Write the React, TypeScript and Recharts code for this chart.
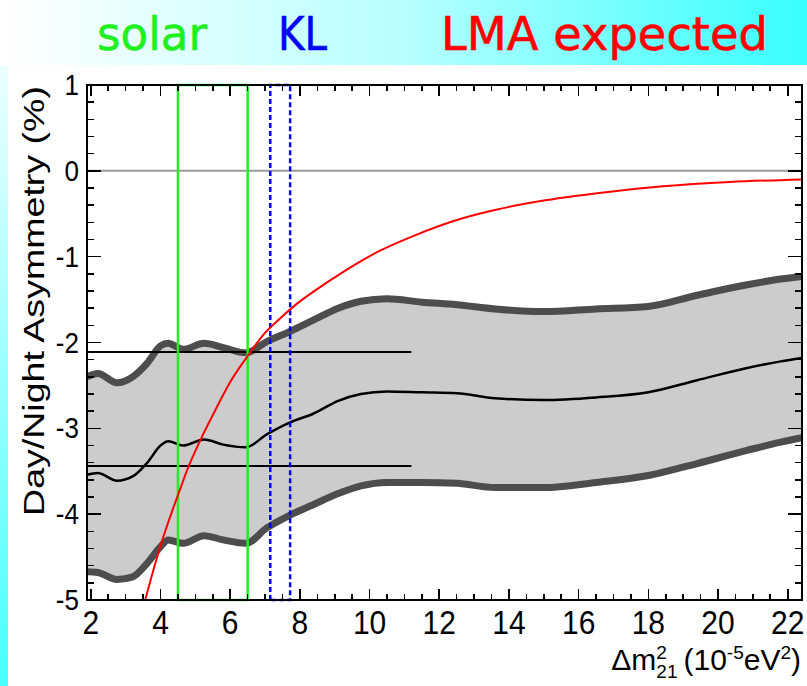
import React from 'react';
import { ComposedChart, Line, Area, XAxis, YAxis } from 'recharts';

// Δm²21 sample points (10^-5 eV²) for the day/night asymmetry band
const bandX = [1.89, 2.2, 2.75, 3.2, 3.62, 4.0, 4.22, 4.65, 5.25, 5.8, 6.45, 7.05, 7.72, 8.38, 9.1, 9.75, 10.5, 11.5, 12.5, 13.6, 15.0, 16.5, 18.0, 19.4, 20.8, 21.8, 22.41];
// upper edge of the band (%)
const bandUpper = [-2.4, -2.36, -2.47, -2.4, -2.24, -2.04, -2.01, -2.08, -2.01, -2.06, -2.12, -1.99, -1.87, -1.74, -1.6, -1.52, -1.49, -1.53, -1.56, -1.61, -1.64, -1.61, -1.58, -1.45, -1.33, -1.26, -1.23];
// lower edge of the band (%)
const bandLower = [-4.67, -4.68, -4.76, -4.73, -4.57, -4.38, -4.3, -4.34, -4.25, -4.3, -4.34, -4.16, -4.01, -3.89, -3.76, -3.67, -3.63, -3.63, -3.64, -3.69, -3.69, -3.63, -3.55, -3.41, -3.26, -3.16, -3.11];
// central value (%)
const bandCentral = [-3.54, -3.52, -3.61, -3.56, -3.4, -3.2, -3.15, -3.2, -3.13, -3.19, -3.22, -3.07, -2.93, -2.83, -2.68, -2.6, -2.57, -2.58, -2.59, -2.65, -2.67, -2.64, -2.58, -2.44, -2.3, -2.22, -2.18];

// LMA expectation curve
const lmaX = [3.56, 3.99, 4.57, 4.8, 5.14, 5.52, 6.0, 6.48, 6.95, 7.43, 7.91, 8.38, 9.35, 10.3, 11.25, 12.69, 13.66, 15.09, 16.53, 18.42, 20.34, 22.41];
const lmaY = [-5.0, -4.38, -3.7, -3.45, -3.14, -2.83, -2.46, -2.17, -1.91, -1.72, -1.55, -1.41, -1.15, -0.93, -0.76, -0.55, -0.45, -0.34, -0.26, -0.18, -0.13, -0.1];

// allowed regions
const solarRange = [4.5, 6.5];
const klRange = [7.15, 7.72];

// measured asymmetry levels (horizontal lines) and where they stop
const refLevels = [-2.11, -3.44];
const refLineEnd = 11.2;

const xDomain: [number, number] = [1.89, 22.41];
const yDomain: [number, number] = [-5, 1];

const xMajorTicks = [2, 4, 6, 8, 10, 12, 14, 16, 18, 20, 22];
const yMajorTicks = [-5, -4, -3, -2, -1, 0, 1];

const xAllTicks = Array.from({ length: 41 }, (_, i) => 2 + i * 0.5);
const yAllTicks = Array.from({ length: 31 }, (_, i) => Math.round((-5 + i * 0.2) * 10) / 10);

const W = 807;
const H = 686;
const MARGIN = { top: 85, right: 5, bottom: 0, left: 0 };
const X_AXIS_H = 86;
const Y_AXIS_W = 87;
const PLOT_L = MARGIN.left + Y_AXIS_W;
const PLOT_T = MARGIN.top;
const PLOT_W = W - MARGIN.left - MARGIN.right - Y_AXIS_W;
const PLOT_H = H - MARGIN.top - MARGIN.bottom - X_AXIS_H;

const isMajorX = (v: number) => xMajorTicks.includes(v);
const isMajorY = (v: number) => yMajorTicks.includes(v);

// frame tick positions, on the same linear mapping as the chart's axes
const fx = (v: number) => PLOT_L + ((v - xDomain[0]) / (xDomain[1] - xDomain[0])) * PLOT_W;
const fy = (v: number) => PLOT_T + ((yDomain[1] - v) / (yDomain[1] - yDomain[0])) * PLOT_H;

const bandData = bandX.map((x, i) => ({
  x,
  hi: bandUpper[i],
  lo: bandLower[i],
  mid: bandCentral[i],
  range: [bandLower[i], bandUpper[i]],
}));
const lmaData = lmaX.map((x, i) => ({ x, y: lmaY[i] }));

const boxData = (xr: number[], yr: number[]) => [
  { x: xr[0], y: yr[0] },
  { x: xr[0], y: yr[1] },
  { x: xr[1], y: yr[1] },
  { x: xr[1], y: yr[0] },
  { x: xr[0], y: yr[0] },
];
const hLine = (level: number, a: number, b: number) => [
  { x: a, y: level },
  { x: b, y: level },
];

const FONT = 'Liberation Sans, Arial, Helvetica, sans-serif';

const BottomTick = (p: any) => {
  const v = p.payload.value;
  if (!isMajorX(v)) return <g />;
  return (
    <text transform={`translate(${p.x},${p.y + 34}) scale(1,1.12)`} textAnchor="middle" fontSize={30} fontFamily={FONT} fill="#000">
      {v}
    </text>
  );
};

const LeftTick = (p: any) => {
  const v = p.payload.value;
  if (!isMajorY(v)) return <g />;
  return (
    <text transform={`translate(${p.x - 8},${p.y + 10}) scale(1,1.1)`} textAnchor="end" fontSize={26} fontFamily={FONT} fill="#000">
      {v}
    </text>
  );
};

// plot frame with inward ticks on all four sides, laid out as thin HTML bars
const Frame = () => {
  const x0 = PLOT_L;
  const x1 = PLOT_L + PLOT_W;
  const y0 = PLOT_T;
  const y1 = PLOT_T + PLOT_H;
  const bar = (key: string, left: number, top: number, width: number, height: number) => (
    <div key={key} style={{ position: 'absolute', left, top, width, height, background: '#000' }} />
  );
  const bars: React.ReactNode[] = [];
  xAllTicks.forEach((t) => {
    const l = isMajorX(t) ? 11 : 6;
    const x = fx(t);
    bars.push(bar(`xb${t}`, x - 0.8, y1 - l, 1.6, l));
    bars.push(bar(`xt${t}`, x - 0.8, y0, 1.6, l));
  });
  yAllTicks.forEach((t) => {
    const l = isMajorY(t) ? 14 : 7;
    const y = fy(t);
    bars.push(bar(`yl${t}`, x0, y - 0.8, l, 1.6));
    bars.push(bar(`yr${t}`, x1 - l, y - 0.8, l, 1.6));
  });
  return (
    <div style={{ position: 'absolute', left: 0, top: 0, width: W, height: H, pointerEvents: 'none' }}>
      <div
        style={{
          position: 'absolute',
          left: x0 - 1,
          top: y0 - 1,
          width: PLOT_W + 2,
          height: PLOT_H + 2,
          border: '2px solid #000',
          boxSizing: 'border-box',
        }}
      />
      {bars}
    </div>
  );
};

export default function App() {
  const common = { xAxisId: 'b', yAxisId: 'l', isAnimationActive: false, dot: false, activeDot: false } as const;
  return (
    <div style={{ position: 'absolute', left: 0, top: 0, width: W, height: H, background: '#fff', overflow: 'hidden' }}>
      <svg width={W} height={H} style={{ position: 'absolute', left: 0, top: 0 }}>
        <defs>
          <linearGradient id="hdr" x1="0" y1="0" x2="1" y2="0">
            <stop offset="0" stopColor="#ffffff" />
            <stop offset="0.5" stopColor="#b8ffff" />
            <stop offset="1" stopColor="#38ffff" />
          </linearGradient>
          <linearGradient id="side" x1="0" y1="0" x2="0" y2="1">
            <stop offset="0" stopColor="#ecffff" />
            <stop offset="1" stopColor="#48ffff" />
          </linearGradient>
        </defs>
        <rect x={0} y={0} width={W} height={65} fill="url(#hdr)" />
        <rect x={0} y={65} width={8} height={H - 65} fill="url(#side)" />
        <g fontFamily="DejaVu Sans, sans-serif" fontSize={46} stroke="currentColor" strokeWidth={0.6}>
          <text x={97} y={50} fill="#20f020" color="#20f020" textLength={110} lengthAdjust="spacingAndGlyphs">solar</text>
          <text x={278} y={50} fill="#0000ff" color="#0000ff" textLength={49} lengthAdjust="spacingAndGlyphs">KL</text>
          <text x={441} y={50} fill="#ff0000" color="#ff0000" textLength={327} lengthAdjust="spacingAndGlyphs">LMA expected</text>
        </g>
        <text
          transform="translate(44,301) rotate(-90)"
          textAnchor="middle"
          fontSize={30}
          fontFamily={FONT}
          textLength={430}
          lengthAdjust="spacingAndGlyphs"
          fill="#000"
        >
          Day/Night Asymmetry (%)
        </text>
        <text x={801} y={670} textAnchor="end" fontSize={30} fontFamily={FONT} fill="#000">
          <tspan>Δm</tspan>
          <tspan fontSize={19} dy={-11}>2</tspan>
          <tspan fontSize={19} dx={-10.6} dy={19}>21</tspan>
          <tspan dx={6} dy={-8}>(10</tspan>
          <tspan fontSize={19} dy={-11}>-5</tspan>
          <tspan dy={11}>eV</tspan>
          <tspan fontSize={19} dy={-11}>2</tspan>
          <tspan dy={11}>)</tspan>
        </text>
      </svg>
      <div style={{ position: 'absolute', left: 0, top: 0 }}>
        <ComposedChart width={W} height={H} margin={MARGIN}>
          <Area
            xAxisId="b"
            yAxisId="l"
            data={bandData}
            dataKey="range"
            type="monotone"
            fill="#cccccc"
            fillOpacity={1}
            stroke="none"
            isAnimationActive={false}
            dot={false}
            activeDot={false}
          />
          <Line {...common} data={bandData} dataKey="hi" type="monotone" stroke="#4d4d4d" strokeWidth={7} strokeLinejoin="round" />
          <Line {...common} data={bandData} dataKey="lo" type="monotone" stroke="#4d4d4d" strokeWidth={7} strokeLinejoin="round" />
          <Line {...common} data={bandData} dataKey="mid" type="monotone" stroke="#000" strokeWidth={2.5} />
          <Line {...common} data={hLine(0, xDomain[0], xDomain[1])} dataKey="y" type="linear" stroke="#9a9a9a" strokeWidth={2} />
          {refLevels.map((lv, i) => (
            <Line key={`ref${i}`} {...common} data={hLine(lv, xDomain[0], refLineEnd)} dataKey="y" type="linear" stroke="#000" strokeWidth={2} />
          ))}
          <Line {...common} data={boxData(solarRange, yDomain)} dataKey="y" type="linear" stroke="#20f020" strokeWidth={2.5} />
          <Line {...common} data={boxData(klRange, yDomain)} dataKey="y" type="linear" stroke="#0000ff" strokeWidth={2.5} strokeDasharray="5 3" />
          <Line {...common} data={lmaData} dataKey="y" type="monotone" stroke="#ff0000" strokeWidth={2} />
          <XAxis
            xAxisId="b"
            orientation="bottom"
            dataKey="x"
            type="number"
            domain={xDomain}
            ticks={xAllTicks}
            interval={0}
            height={X_AXIS_H}
            tickSize={0}
            tickMargin={0}
            tickLine={false}
            tick={BottomTick}
            axisLine={false}
          />
          <YAxis
            yAxisId="l"
            orientation="left"
            type="number"
            domain={yDomain}
            ticks={yAllTicks}
            interval={0}
            width={Y_AXIS_W}
            tickSize={0}
            tickMargin={0}
            tickLine={false}
            tick={LeftTick}
            axisLine={false}
          />
        </ComposedChart>
      </div>
      <Frame />
    </div>
  );
}
